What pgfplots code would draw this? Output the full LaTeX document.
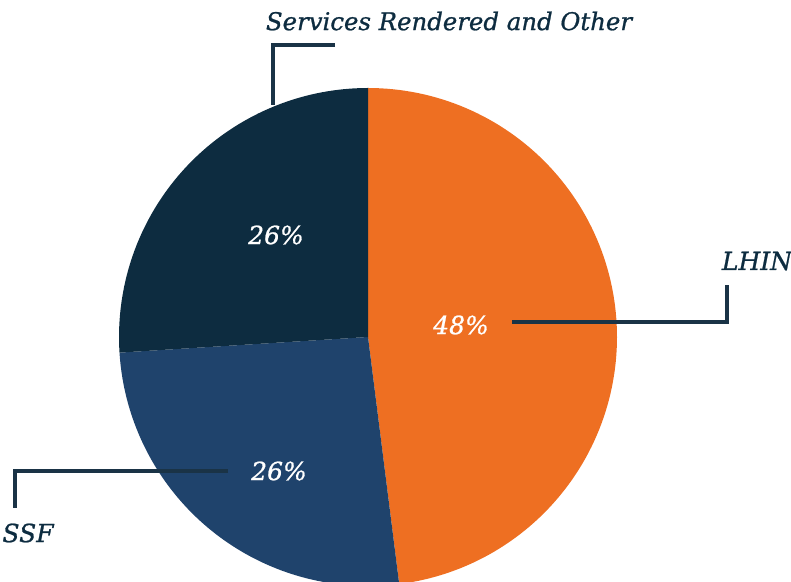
\documentclass[border=0pt]{standalone}
\usepackage{fontspec}
\setmainfont{DejaVu Serif}
\newfontfamily\lblfont[FakeBold=0.9]{DejaVu Serif}
\usepackage{pgfplots}
\pgfplotsset{compat=1.18}
\usepackage{pgfplotstable}
\definecolor{cOrange}{HTML}{EE6F22}
\definecolor{cBlue}{HTML}{1F436C}
\definecolor{cNavy}{HTML}{0D2C40}
\definecolor{cLine}{HTML}{1A3346}
\pgfplotstableread{
label value
LHIN 48
SSF 26
Services 26
}\piedata
\begin{document}
\begin{tikzpicture}
\pgfplotstablegetelem{0}{value}\of\piedata \let\vA\pgfplotsretval
\pgfplotstablegetelem{1}{value}\of\piedata \let\vB\pgfplotsretval
\pgfplotstablegetelem{2}{value}\of\piedata \let\vC\pgfplotsretval
\pgfmathsetmacro\aA{90-3.6*\vA}
\pgfmathsetmacro\aB{\aA-3.6*\vB}
\pgfmathsetmacro\aC{\aB-3.6*\vC}
\begin{axis}[
  width=395.5pt, height=291pt, scale only axis,
  xmin=0, xmax=791, ymin=0, ymax=582,
  hide axis, clip=true,
]
\path (axis cs:0,0) rectangle (axis cs:791,582);
\addplot[fill=cOrange, draw=none, domain=90:\aA, samples=120]
  ({368+249*cos(x)},{245+249*sin(x)}) -- (axis cs:368,245) -- cycle;
\addplot[fill=cBlue, draw=none, domain=\aA:\aB, samples=80]
  ({368+249*cos(x)},{245+249*sin(x)}) -- (axis cs:368,245) -- cycle;
\addplot[fill=cNavy, draw=none, domain=\aB:\aC, samples=80]
  ({368+249*cos(x)},{245+249*sin(x)}) -- (axis cs:368,245) -- cycle;
% leader lines
\draw[cLine, line width=1.7pt] (axis cs:335,537) -- (axis cs:273,537) -- (axis cs:273,477);
\draw[cLine, line width=1.7pt] (axis cs:512,260) -- (axis cs:727,260) -- (axis cs:727,297);
\draw[cLine, line width=1.7pt] (axis cs:228,111) -- (axis cs:15,111) -- (axis cs:15,74);
% labels
\node[text=cNavy, font=\lblfont\fontsize{12.2}{14}\selectfont\itshape] at (axis cs:449,561) {Services Rendered and Other};
\node[text=cNavy, font=\lblfont\fontsize{12.5}{14}\selectfont\itshape] at (axis cs:757,321) {LHIN};
\node[text=cNavy, font=\lblfont\fontsize{12.5}{14}\selectfont\itshape] at (axis cs:28,49) {SSF};
\node[text=white, font=\lblfont\fontsize{12.5}{14}\selectfont\itshape] at (axis cs:461,257) {\vA\%};
\node[text=white, font=\lblfont\fontsize{12.5}{14}\selectfont\itshape] at (axis cs:276,347) {\vC\%};
\node[text=white, font=\lblfont\fontsize{12.5}{14}\selectfont\itshape] at (axis cs:279,111) {\vB\%};
\end{axis}
\end{tikzpicture}
\end{document}
